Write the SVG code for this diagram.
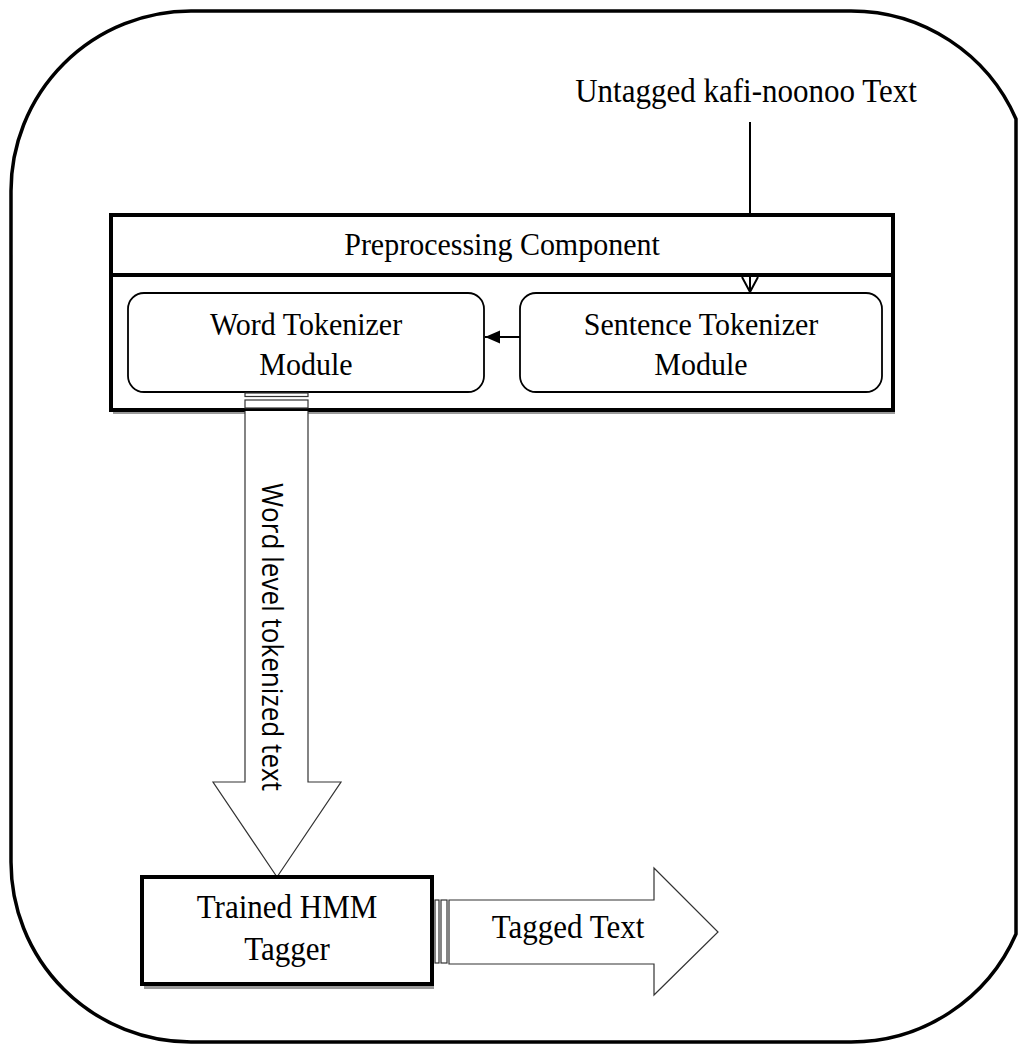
<svg xmlns="http://www.w3.org/2000/svg" width="1018" height="1045" viewBox="0 0 1018 1045">
  <defs>
    <style>
      .serif { font-family: "Liberation Serif", "Times New Roman", serif; fill: #000; }
      .sans { font-family: "Open Sans", "Noto Sans", "DejaVu Sans", sans-serif; fill: #000; }
      .frame { fill: none; stroke: #000; stroke-width: 3.5; }
      .box { fill: #fff; stroke: #000; stroke-width: 4; }
      .shadow { fill: #9a9a9a; stroke: none; }
      .module { fill: #fff; stroke: #000; stroke-width: 1.8; }
      .block { fill: #fff; stroke: #333; stroke-width: 1.2; }
      .link { fill: none; stroke: #000; stroke-width: 2; }
    </style>
    <marker id="openHead" markerUnits="userSpaceOnUse" viewBox="-1 -10 18 20" refX="15" refY="0" markerWidth="18" markerHeight="20" orient="auto">
      <path d="M0,-8 L15,0 L0,8" fill="none" stroke="#000" stroke-width="2"/>
    </marker>
    <marker id="solidHead" markerUnits="userSpaceOnUse" viewBox="0 -7 15 14" refX="15" refY="0" markerWidth="15" markerHeight="14" orient="auto">
      <path d="M0,-6.5 L15,0 L0,6.5 Z" fill="#000"/>
    </marker>
  </defs>

  <rect width="1018" height="1045" fill="#fff"/>

  <!-- outer rounded border -->
  <path class="frame" d="M191,11 H851 A180,180 0 0 1 1016,119 V934 A180,180 0 0 1 851,1042 H191 A180,180 0 0 1 11,862 V191 A180,180 0 0 1 191,11 Z"/>

  <!-- input label -->
  <g id="input-label">
    <text class="serif" transform="translate(746,102) scale(1,1.07)" font-size="31" text-anchor="middle">Untagged kafi-noonoo Text</text>
  </g>

  <!-- preprocessing component -->
  <g id="preprocessing">
    <rect class="shadow" x="113" y="219" width="782" height="60"/>
    <rect class="box" x="111" y="215" width="782" height="60"/>
    <text class="serif" transform="translate(502,255) scale(1,1.07)" font-size="30" text-anchor="middle">Preprocessing Component</text>
    <rect class="shadow" x="113" y="279" width="782" height="135"/>
    <rect class="box" x="111" y="275" width="782" height="135"/>
  </g>

  <g id="word-tokenizer">
    <rect class="module" x="128" y="293" width="356" height="99" rx="16"/>
    <text class="serif" transform="translate(306,335) scale(1,1.07)" font-size="30" text-anchor="middle">Word Tokenizer</text>
    <text class="serif" transform="translate(306,375) scale(1,1.07)" font-size="30" text-anchor="middle">Module</text>
  </g>

  <g id="sentence-tokenizer">
    <rect class="module" x="520" y="293" width="362" height="99" rx="16"/>
    <text class="serif" transform="translate(701,335) scale(1,1.07)" font-size="30" text-anchor="middle">Sentence Tokenizer</text>
    <text class="serif" transform="translate(701,375) scale(1,1.07)" font-size="30" text-anchor="middle">Module</text>
  </g>

  <!-- word level output block arrow -->
  <g id="word-level-arrow">
    <rect class="block" x="245" y="393" width="63" height="3.5"/>
    <rect class="block" x="245" y="400" width="63" height="8"/>
    <path class="block" d="M245,411 V782 H213 L277,877 L341,782 H308 V411"/>
    <text class="sans" transform="translate(262,483) rotate(90)" font-size="28.5" textLength="308" lengthAdjust="spacingAndGlyphs">Word level tokenized text</text>
  </g>

  <!-- tagger -->
  <g id="hmm-tagger">
    <rect class="shadow" x="144" y="882" width="290" height="107"/>
    <rect class="box" x="142" y="877" width="290" height="107"/>
    <text class="serif" transform="translate(287,918) scale(1,1.07)" font-size="31" text-anchor="middle">Trained HMM</text>
    <text class="serif" transform="translate(287,960) scale(1,1.07)" font-size="31" text-anchor="middle">Tagger</text>
  </g>

  <!-- tagged output block arrow -->
  <g id="tagged-output">
    <rect class="block" x="435" y="900" width="4" height="63"/>
    <rect class="block" x="441" y="900" width="6" height="63"/>
    <path class="block" d="M449,900 H654 V868 L718,932 L654,995 V964 H449 Z"/>
    <text class="serif" transform="translate(568,938) scale(1,1.07)" font-size="31" text-anchor="middle">Tagged Text</text>
  </g>

  <!-- connectors -->
  <g id="connectors">
    <path class="link" d="M750,122 V215 M750,277 V292" marker-end="url(#openHead)"/>
    <path class="link" d="M520,337 H485" marker-end="url(#solidHead)"/>
  </g>
</svg>
